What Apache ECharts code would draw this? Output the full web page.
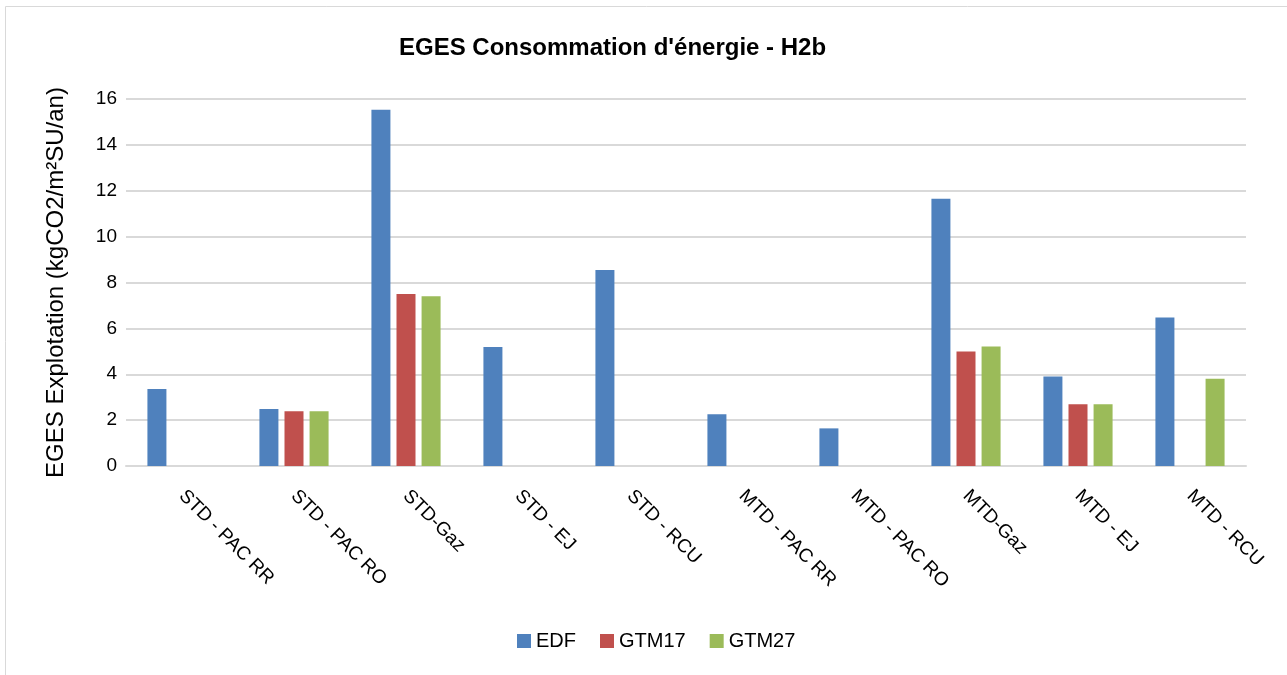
<!DOCTYPE html>
<html>
<head>
<meta charset="utf-8">
<script src="https://cdn.jsdelivr.net/npm/echarts@6/dist/echarts.min.js"></script>
<style>
    html, body { margin: 0; padding: 0; background: #fff; }
    #chart { width: 1287px; height: 675px; }
</style>
</head>
<body>
<div id="chart"></div>
<script>
var categories = ['STD - PAC RR', 'STD - PAC RO', 'STD-Gaz', 'STD - EJ', 'STD - RCU',
    'MTD - PAC RR', 'MTD - PAC RO', 'MTD-Gaz', 'MTD - EJ', 'MTD - RCU'];
var edf   = [3.36, 2.49, 15.53, 5.19, 8.54, 2.26, 1.64, 11.65, 3.9, 6.47];
var gtm17 = [null, 2.39, 7.5, null, null, null, null, 4.99, 2.69, null];
var gtm27 = [null, 2.39, 7.4, null, null, null, null, 5.21, 2.69, 3.8];
var seriesNames = ['EDF', 'GTM17', 'GTM27'];
var colors = ['#4F81BD', '#C0504D', '#9BBB59'];

var font = 'Liberation Sans, Arial, sans-serif';

var makeSeries = function (name, data) {
    return {
        name: name,
        type: 'bar',
        data: data,
        barWidth: 19,
        barGap: '32%',
        silent: true
    };
};

var chart = echarts.init(document.getElementById('chart'));
var option = {
    animation: false,
    color: colors,
    textStyle: { fontFamily: font, color: '#000' },
    title: {
        text: "EGES Consommation d'énergie - H2b",
        left: 394,
        top: 31,
        textStyle: { fontFamily: font, fontSize: 24, fontWeight: 'bold', color: '#000' }
    },
    legend: {
        data: seriesNames,
        bottom: 19,
        left: 512,
        itemWidth: 14,
        itemHeight: 14,
        itemGap: 24,
        icon: 'rect',
        textStyle: { fontFamily: font, fontSize: 20, color: '#000' }
    },
    grid: {
        left: 126,
        right: 41,
        top: 99,
        bottom: 209,
        containLabel: false
    },
    xAxis: {
        type: 'category',
        data: categories,
        axisLine: { lineStyle: { color: '#d9d9d9', width: 2 } },
        axisTick: { show: false },
        axisLabel: {
            rotate: -45,
            interval: 0,
            margin: 27,
            fontSize: 19,
            fontFamily: font,
            color: '#000'
        }
    },
    yAxis: {
        type: 'value',
        min: 0,
        max: 16,
        interval: 2,
        name: 'EGES Explotation (kgCO2/m²SU/an)',
        nameLocation: 'middle',
        nameGap: 58,
        nameTextStyle: { fontFamily: font, fontSize: 24, color: '#000' },
        axisLine: { show: false },
        axisTick: { show: false },
        axisLabel: { margin: 9, fontSize: 19, fontFamily: font, color: '#000' },
        splitLine: { lineStyle: { color: '#d9d9d9', width: 2 } }
    },
    graphic: [{
        type: 'rect',
        shape: { x: 5.5, y: 6.5, width: 1290, height: 680 },
        style: { fill: 'none', stroke: '#d9d9d9', lineWidth: 1 },
        silent: true
    }],
    series: [
        makeSeries(seriesNames[0], edf),
        makeSeries(seriesNames[1], gtm17),
        makeSeries(seriesNames[2], gtm27)
    ]
};
chart.setOption(option);
</script>
</body>
</html>
